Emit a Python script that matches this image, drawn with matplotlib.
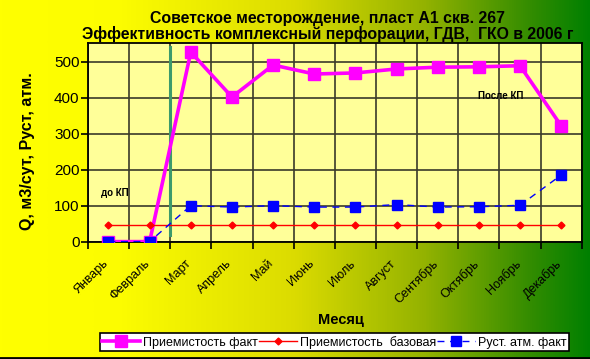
import numpy as np
import matplotlib
matplotlib.use('Agg')
import matplotlib.pyplot as plt
from matplotlib.colors import LinearSegmentedColormap
from matplotlib.lines import Line2D
from matplotlib.transforms import ScaledTranslation

plt.rcParams['font.family'] = ['Liberation Sans', 'DejaVu Sans']

months = ['Январь', 'Февраль', 'Март', 'Апрель', 'Май', 'Июнь',
          'Июль', 'Август', 'Сентябрь', 'Октябрь', 'Ноябрь', 'Декабрь']
inj_fact = [0, 0, 527, 402, 491, 466, 469, 480, 485, 486, 489, 322]
inj_base = [45, 45, 45, 45, 45, 45, 45, 45, 45, 45, 45, 45]
p_fact = [0, 0, 100, 96, 100, 96, 96, 103, 96, 97, 101, 185]

# vertical divider between "до КП" and "после КП"
divider_x = 1.5
divider_y = (18, 540)

fig = plt.figure(figsize=(5.9, 3.59), dpi=100)

# background gradient yellow -> green
bg = fig.add_axes([0, 0, 1, 1], zorder=-10)
cmap = LinearSegmentedColormap.from_list('yg', [
    (0.0, (1.0, 1.0, 0.0)),
    (0.2, (0.99, 0.99, 0.0)),
    (0.5, (0.86, 0.86, 0.0)),
    (0.72, (0.58, 0.70, 0.0)),
    (0.9, (0.2, 0.55, 0.0)),
    (1.0, (0.0, 0.5, 0.0))])
bg.imshow(np.linspace(0, 1, 512).reshape(1, -1), cmap=cmap, aspect='auto',
          extent=[0, 1, 0, 1])
bg.set_axis_off()
fig.add_artist(Line2D([0, 1], [0.004, 0.004], color='black', lw=2,
                      transform=fig.transFigure))

ax = fig.add_axes([0.149, 0.327, 0.837, 0.553])
ax.set_facecolor('#ffff99')
x = np.arange(len(months))

ax.plot(x, inj_fact, color='#ff00ff', lw=2.6, marker='s', ms=9,
        mfc='#ff00ff', mec='#ff00ff', label='Приемистость факт', zorder=3)
ax.plot(x, inj_base, color='red', lw=1, marker='D', ms=3.5,
        mfc='red', mec='red', label='Приемистость  базовая', zorder=4)
ax.plot(x, p_fact, color='blue', lw=1, ls=(0, (5, 4)), marker='s', ms=6.5,
        mfc='blue', mec='blue', label='Руст. атм. факт', zorder=5)

ax.plot([divider_x, divider_x], divider_y, color='#3c9a6c', lw=2.2, zorder=2)

ax.text(0.15, 135, 'до КП', fontsize=7, fontweight='bold', ha='center', va='center')
ax.text(9.53, 405, 'После КП', fontsize=7, fontweight='bold', ha='center', va='center')

ax.set_xlim(-0.5, 11.5)
ax.set_ylim(0, 552)
ax.set_yticks(range(0, 600, 100))
ax.set_xticks(np.arange(-0.5, 12, 1))
ax.set_xticklabels([])
ax.tick_params(axis='x', length=5, width=1.2, direction='out')
ax.tick_params(axis='y', length=5, width=1.2, labelsize=11, pad=1)

# month labels, rotated, sitting left-below each category centre
lbl_tr = ax.get_xaxis_transform() + ScaledTranslation(-6 / 100, -16 / 100,
                                                       fig.dpi_scale_trans)
for i, m in enumerate(months):
    ax.text(x[i], 0, m, transform=lbl_tr, rotation=45, ha='right', va='top',
            rotation_mode='anchor', fontsize=9, clip_on=False)

ax.grid(True, axis='both', color='#3a3a2a', lw=1.2)
for s in ax.spines.values():
    s.set_color('black')
    s.set_linewidth(1.3)

ax.set_ylabel('Q, м3/сут, Руст, атм.', fontsize=11.5, fontweight='bold')
ax.yaxis.set_label_coords(-0.108, 0.456)
fig.text(0.555, 0.968, 'Советское месторождение, пласт А1 скв. 267\n'
         'Эффективность комплексный перфорации, ГДВ,  ГКО в 2006 г',
         ha='center', va='top', fontsize=11.4, fontweight='bold',
         linespacing=0.95)
fig.text(0.578, 0.108, 'Месяц', ha='center', va='center', fontsize=10.5,
         fontweight='bold')

leg = ax.legend(loc='center', bbox_to_anchor=(0.567, 0.047),
                bbox_transform=fig.transFigure, ncol=3, fontsize=9,
                frameon=True, fancybox=False, edgecolor='black', framealpha=1,
                handlelength=3.0, handletextpad=0.25, columnspacing=0.1,
                borderpad=0.2, borderaxespad=0)
leg.get_frame().set_linewidth(1.2)

fig.savefig('out.png', dpi=100)
